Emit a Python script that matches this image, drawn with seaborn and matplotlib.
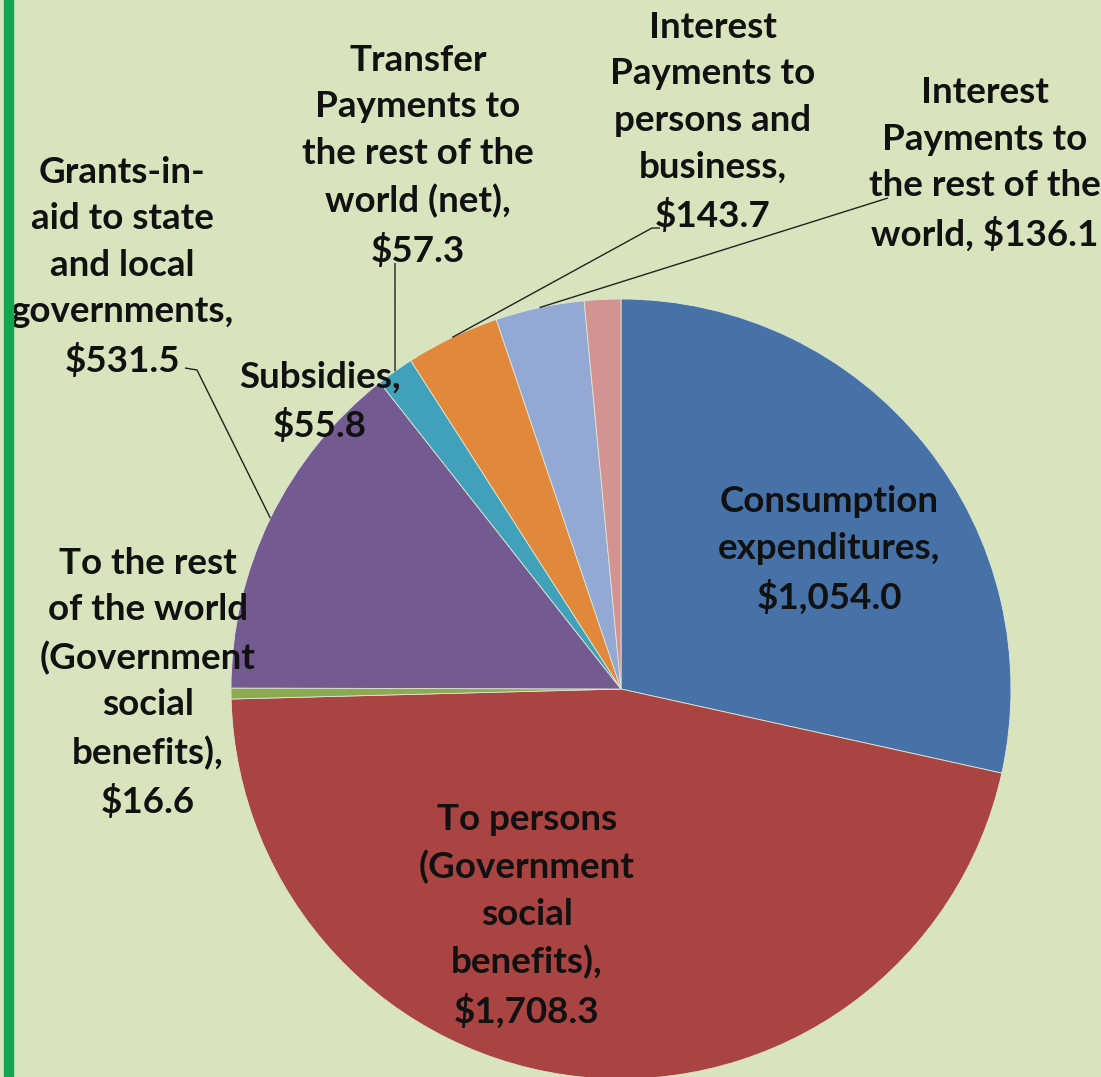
import matplotlib
matplotlib.use("Agg")
import matplotlib.pyplot as plt
from matplotlib.patches import Rectangle
import seaborn as sns
import numpy as np

# Federal government current expenditures, billions of dollars
categories = [
    "Consumption expenditures",
    "To persons (Government social benefits)",
    "To the rest of the world (Government social benefits)",
    "Grants-in-aid to state and local governments",
    "Transfer Payments to the rest of the world (net)",
    "Interest Payments to persons and business",
    "Interest Payments to the rest of the world",
    "Subsidies",
]
values = [1054.0, 1708.3, 16.6, 531.5, 57.3, 143.7, 136.1, 55.8]

# wrapped category names used in the data labels, and how the value is attached
label_names = [
    "Consumption\nexpenditures",
    "To persons\n(Government\nsocial\nbenefits)",
    "To the rest\nof the world\n(Government\nsocial\nbenefits)",
    "Grants-in-\naid to state\nand local\ngovernments",
    "Transfer\nPayments to\nthe rest of the\nworld (net)",
    "Interest\nPayments to\npersons and\nbusiness",
    "Interest\nPayments to\nthe rest of the\nworld",
    "Subsidies",
]
value_joins = [",\n", ",\n", ",\n", ",\n", ",\n", ",\n", ", ", ",\n"]

slice_colors = ["#4672a8", "#a94442", "#8cab50", "#735a91",
                "#42a1ba", "#e2883b", "#93a9d3", "#d39393"]

W, H = 1101, 1077
CX, CY, R = 621, 689, 390


def px(x, y):
    """Pixel position on the canvas -> data coordinates of the pie axes."""
    return (x - CX) / R, (CY - y) / R


sns.set_style("white")
plt.rcParams["font.family"] = ["Lato", "DejaVu Sans"]
plt.rcParams["font.weight"] = "bold"

fig = plt.figure(figsize=(W / 100, H / 100), dpi=100)
bg = "#d8e4bd"
fig.patch.set_facecolor(bg)
ax = fig.add_axes([0, 0, 1, 1])
ax.set_facecolor(bg)

palette = sns.color_palette(slice_colors)
wedges, _ = ax.pie(values, colors=palette, startangle=90, counterclock=False,
                   radius=1.0, center=(0, 0),
                   wedgeprops=dict(linewidth=0.6, edgecolor="#dfe6d6"))

ax.set_xlim(-CX / R, (W - CX) / R)
ax.set_ylim((CY - H) / R, CY / R)
ax.set_aspect("equal")
ax.axis("off")

labels = [f"{n}{j}${v:,.1f}" for n, j, v in zip(label_names, value_joins, values)]

# label centres (layout)
label_pos = [(829, 550), (527, 916), (148, 683), (122, 267),
             (418, 156), (713, 122), (985, 164), (320, 402)]

for txt, (x, y) in zip(labels, label_pos):
    ax.text(*px(x, y), txt, ha="center", va="center", multialignment="center",
            fontsize=26.5, fontweight="bold", color="#111111", linespacing=1.5)


def rim_point(w):
    mid = np.deg2rad((w.theta1 + w.theta2) / 2)
    return np.cos(mid), np.sin(mid)


# leader lines: label-side points (layout) joined to the middle of each slice's rim
leaders = {
    3: [(185, 368), (197, 370)],
    4: [(395, 263)],
    5: [(660, 228), (652, 228)],
    6: [(888, 198)],
}
for i, pts in leaders.items():
    xs = [px(*p)[0] for p in pts]
    ys = [px(*p)[1] for p in pts]
    rx, ry = rim_point(wedges[i])
    xs.append(rx)
    ys.append(ry)
    ax.plot(xs, ys, color="#222222", linewidth=1.0, solid_capstyle="butt")

# green rule down the left edge
fig.add_artist(Rectangle((4 / W, 0), 9 / W, 1, transform=fig.transFigure,
                         color="#12a650", zorder=5))

fig.savefig("out.png", dpi=100, facecolor=bg)
